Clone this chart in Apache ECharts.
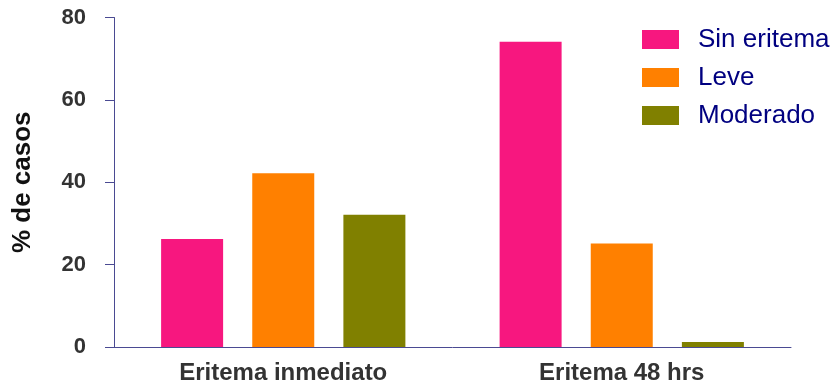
<!DOCTYPE html>
<html lang="es">
<head>
  <meta charset="UTF-8">
  <title>Eritema</title>
  <style>
    body { margin: 0; padding: 0; background: #fff; }
    #chart { width: 837px; height: 387px; }
  </style>
  <script src="https://cdnjs.cloudflare.com/ajax/libs/echarts/6.0.0/echarts.min.js"></script>
</head>
<body>
  <div id="chart"></div>
  <script>
    // Data
    const categories = ['Eritema inmediato', 'Eritema 48 hrs'];
    const sinEritema = [26.2, 74.1];
    const leve = [42.2, 25.1];
    const moderado = [32.1, 1.2];
    const yTicks = [0, 20, 40, 60, 80];

    const axisColor = '#4a4a92';
    const chart = echarts.init(document.getElementById('chart'));

    chart.setOption({
      animation: false,
      grid: { left: 114, right: 46, top: 17.5, bottom: 40, containLabel: false },
      legend: {
        orient: 'vertical',
        left: 642,
        top: 26.5,
        padding: 0,
        itemWidth: 37,
        itemHeight: 19,
        itemGap: 12,
        icon: 'rect',
        textStyle: {
          fontFamily: 'Liberation Sans, Arial, sans-serif',
          fontSize: 26,
          color: '#000080',
          padding: [0, 0, 0, 14]
        },
        data: ['Sin eritema', 'Leve', 'Moderado']
      },
      xAxis: {
        type: 'category',
        data: categories,
        axisLine: { lineStyle: { color: axisColor, width: 1 } },
        axisTick: { alignWithLabel: true, length: 9, lineStyle: { color: axisColor } },
        axisLabel: {
          margin: 14,
          fontFamily: 'Liberation Sans, Arial, sans-serif',
          fontWeight: 'bold',
          fontSize: 24,
          color: '#333333'
        }
      },
      yAxis: {
        type: 'value',
        min: yTicks[0],
        max: yTicks[yTicks.length - 1],
        interval: 20,
        name: '% de casos',
        nameLocation: 'middle',
        nameGap: 78,
        nameRotate: 90,
        nameTextStyle: {
          fontFamily: 'Liberation Sans, Arial, sans-serif',
          fontWeight: 'bold',
          fontSize: 26,
          color: '#111111'
        },
        axisLine: { show: true, lineStyle: { color: axisColor, width: 1 } },
        axisTick: { show: true, length: 9, lineStyle: { color: axisColor } },
        splitLine: { show: false },
        axisLabel: {
          margin: 28,
          fontFamily: 'Liberation Sans, Arial, sans-serif',
          fontWeight: 'bold',
          fontSize: 22,
          color: '#333333'
        }
      },
      series: [
        { name: 'Sin eritema', type: 'bar', data: sinEritema, barWidth: 62, barGap: '47%',
          itemStyle: { color: '#f7177f' } },
        { name: 'Leve', type: 'bar', data: leve, barWidth: 62, barGap: '47%',
          itemStyle: { color: '#ff8000' } },
        { name: 'Moderado', type: 'bar', data: moderado, barWidth: 62, barGap: '47%',
          itemStyle: { color: '#808000' } }
      ]
    });
  </script>
</body>
</html>
